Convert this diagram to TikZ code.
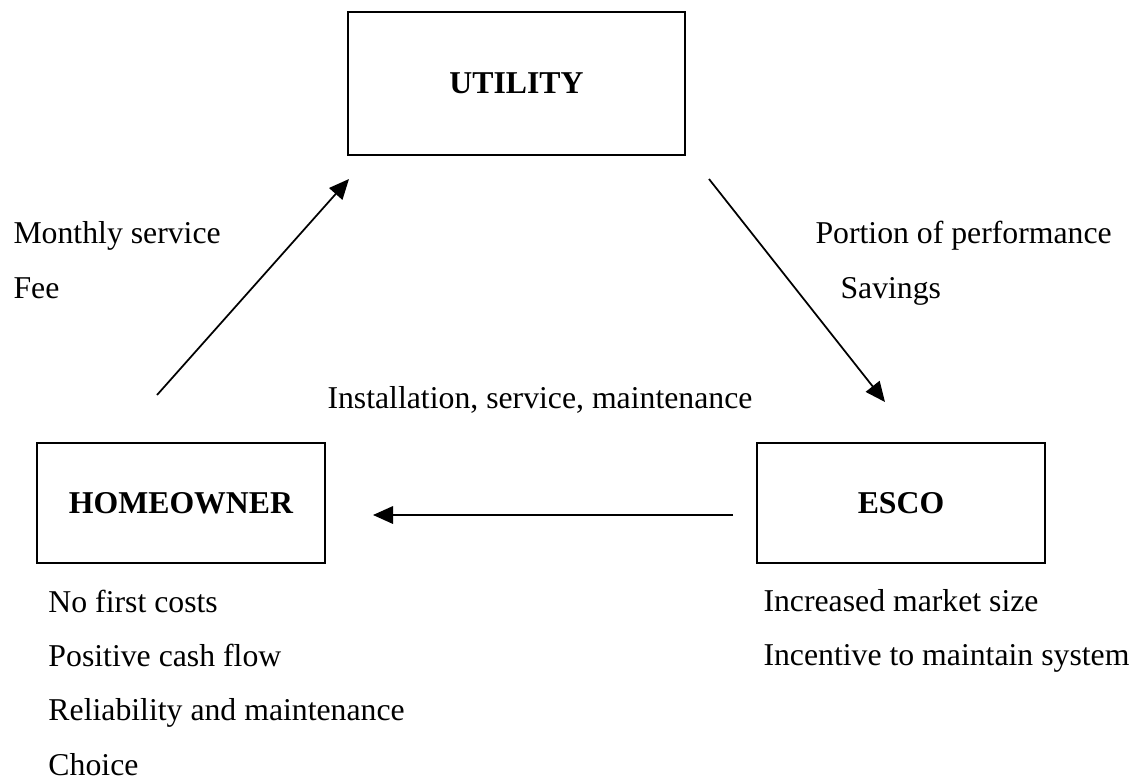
\documentclass[tikz,border=0pt]{standalone}
\usepackage{fontspec}
\setmainfont{Liberation Serif}
\usetikzlibrary{arrows.meta}

\newcommand{\diagfont}{\fontsize{12.7pt}{15pt}\selectfont}

\tikzset{
  party/.style={draw, line width=0.8pt, inner sep=0pt, font=\diagfont\bfseries},
  note/.style={anchor=base west, inner sep=0pt, font=\diagfont},
  flow/.style={line width=0.7pt, -{Triangle[length=8pt,width=7pt]}}
}

\begin{document}
\begin{tikzpicture}[x=0.4pt, y=-0.4pt]
\useasboundingbox (0,0) rectangle (1141,781);
% the three parties
\node[party, minimum width=134.8pt, minimum height=57.2pt] (utility) at (516.5,83.5) {UTILITY};
\node[party, minimum width=115.2pt, minimum height=48pt] (homeowner) at (181,503) {HOMEOWNER};
\node[party, minimum width=115.2pt, minimum height=48pt] (esco) at (901,503) {ESCO};
% arrow ends
\coordinate (h1) at (157,395);
\coordinate (u1) at (349,179);
\coordinate (u2) at (709,179);
\coordinate (e1) at (885,402);
\coordinate (e2) at (733,515);
\coordinate (h2) at (373,515);
\draw[flow] (h1) -- (u1);
\draw[flow] (u2) -- (e1);
\draw[flow] (e2) -- (h2);
% labels
\node[note] (fee1) at (13,243) {Monthly service};
\node[note] (fee2) at (13,298) {Fee};
\node[note] (perf1) at (815,243) {Portion of performance};
\node[note] (perf2) at (840,298) {Savings};
\node[note] (inst) at (327,408) {Installation, service, maintenance};
\node[note] (ho1) at (48,612) {No first costs};
\node[note] (ho2) at (48,666) {Positive cash flow};
\node[note] (ho3) at (48,720) {Reliability and maintenance};
\node[note] (ho4) at (48,775) {Choice};
\node[note] (es1) at (763,611) {Increased market size};
\node[note] (es2) at (763,665) {Incentive to maintain system};
\end{tikzpicture}
\end{document}
